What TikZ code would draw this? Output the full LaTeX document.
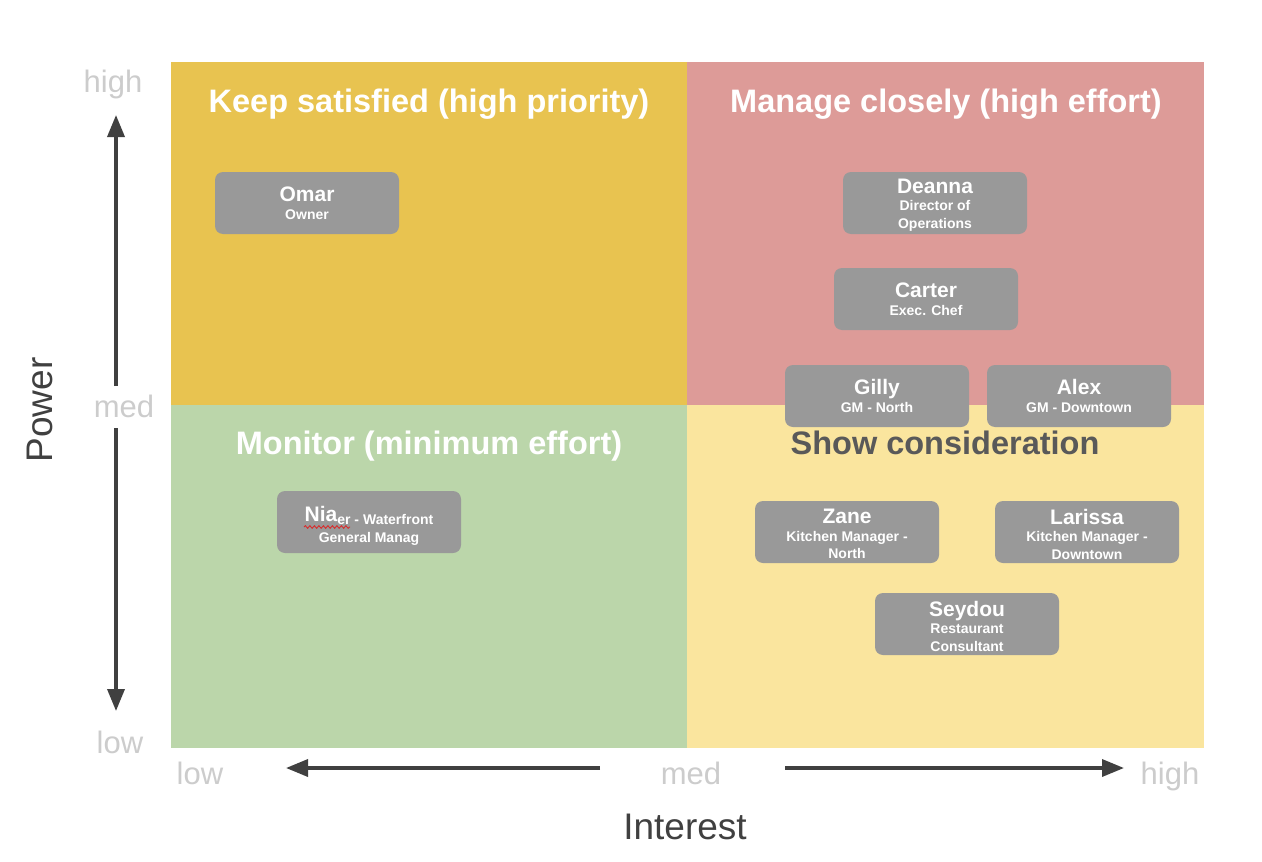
\documentclass[tikz,border=0pt]{standalone}
\usepackage{fontspec}
\setmainfont{Liberation Sans}
\usetikzlibrary{arrows.meta,decorations.pathmorphing}
\definecolor{qKeep}{RGB}{232,195,80}
\definecolor{qManage}{RGB}{221,155,152}
\definecolor{qMonitor}{RGB}{187,214,170}
\definecolor{qShow}{RGB}{250,229,158}
\definecolor{cardgrey}{RGB}{153,153,153}
\definecolor{axisgrey}{RGB}{204,204,204}
\definecolor{arrowgrey}{RGB}{64,64,64}
\definecolor{titledark}{RGB}{89,89,89}
\definecolor{spellred}{RGB}{215,45,45}
\tikzset{
  card/.style={fill=cardgrey, rounded corners=8pt, minimum width=184pt, minimum height=62pt,
    inner sep=0pt, text=white, align=center, font=\bfseries\fontsize{14}{17.5}\selectfont},
  cardtxt/.style={text=white, align=center, inner sep=0pt, font=\bfseries\fontsize{14}{17.5}\selectfont},
  qtitle/.style={anchor=base, font=\bfseries\fontsize{32.5}{36}\selectfont, text=white, inner sep=0pt},
  tick/.style={anchor=base, font=\fontsize{31}{34}\selectfont, text=axisgrey, inner sep=0pt},
  axislabel/.style={anchor=base, font=\fontsize{37}{40}\selectfont, text=arrowgrey, inner sep=0pt},
  axarrow/.style={draw=arrowgrey, line width=3.5pt, -{Triangle[length=22pt,width=17pt]}},
}
\newcommand{\cname}[1]{{\fontsize{21}{20}\selectfont #1}}
\begin{document}
\begin{tikzpicture}[x=1pt,y=-1pt]
\useasboundingbox[fill=white] (0,0) rectangle (1262,862);
% quadrants
\fill[qKeep] (171,62) rectangle (687,405);
\fill[qManage] (687,62) rectangle (1204,405);
\fill[qMonitor] (171,405) rectangle (687,748);
\fill[qShow] (687,405) rectangle (1204,748);
% quadrant titles
\node[qtitle] (tkeep) at (429,112) {Keep satisfied (high priority)};
\node[qtitle] (tmanage) at (946,112) {Manage closely (high effort)};
\node[qtitle] (tmonitor) at (429,454) {Monitor (minimum effort)};
\node[qtitle, text=titledark] (tshow) at (945,454) {Show consideration};
% cards
\node[card] (omar) at (307,203) {\cname{Omar}\\Owner};
\node[card] (deanna) at (935,203) {};
\node[card] (carter) at (926,299) {\cname{Carter}\\Exec. Chef};
\node[card] (gilly) at (877,396) {\cname{Gilly}\\GM - North};
\node[card] (alex) at (1079,396) {\cname{Alex}\\GM - Downtown};
\node[card] (nia) at (369,522) {};
\node[card] (zane) at (847,532) {};
\node[card] (larissa) at (1087,532) {};
\node[card] (seydou) at (967,624) {};
\node[cardtxt] (deannatext) at ([yshift=-2pt]deanna.center) {\cname{Deanna}\\Director of\\Operations};
\node[cardtxt, font=\bfseries\fontsize{14}{18}\selectfont] (niatext) at ([yshift=-4pt]nia.center) {\raisebox{3pt}{\cname{Nia}}er - Waterfront\\General Manag};
\node[cardtxt] (zanetext) at ([yshift=-2pt]zane.center) {\cname{Zane}\\Kitchen Manager -\\North};
\node[cardtxt] (larissatext) at ([yshift=-2pt]larissa.center) {\cname{Larissa}\\Kitchen Manager -\\Downtown};
\node[cardtxt] (seydoutext) at ([yshift=-2pt]seydou.center) {\cname{Seydou}\\Restaurant\\Consultant};
% spell-check squiggle under "Nia"
\draw[spellred, line width=0.9pt, decorate, decoration={snake, segment length=4.5pt, amplitude=1.3pt}] ([xshift=-65pt,yshift=-5pt]nia.center) -- ([xshift=-19pt,yshift=-5pt]nia.center);
% axis ticks
\node[tick] (yhigh) at (113,92) {high};
\node[tick] (ymed) at (124,417) {med};
\node[tick] (ylow) at (120,753) {low};
\node[tick] (xlow) at (200,784) {low};
\node[tick] (xmed) at (691,784) {med};
\node[tick] (xhigh) at (1170,784) {high};
% arrows
\coordinate (vupS) at (116,386);
\coordinate (vupE) at (116,115);
\coordinate (vdnS) at (116,428);
\coordinate (vdnE) at (116,711);
\coordinate (hlS) at (600,768);
\coordinate (hlE) at (286,768);
\coordinate (hrS) at (785,768);
\coordinate (hrE) at (1124,768);
\draw[axarrow] (vupS) -- (vupE);
\draw[axarrow] (vdnS) -- (vdnE);
\draw[axarrow] (hlS) -- (hlE);
\draw[axarrow] (hrS) -- (hrE);
% axis labels
\node[axislabel] (interest) at (685,839) {Interest};
\node[axislabel, rotate=90] (power) at (52,410) {Power};
\end{tikzpicture}
\end{document}
